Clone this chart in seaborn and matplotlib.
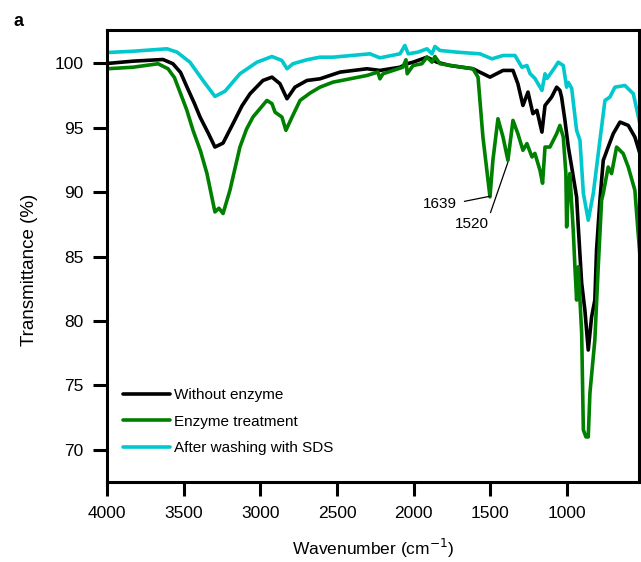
import pandas as pd
import seaborn as sns
import matplotlib.pyplot as plt

# FTIR spectra (wavenumber, transmittance %)
wn_without = [4000, 3830, 3635, 3570, 3520, 3478, 3430, 3393, 3340, 3296, 3243, 3178, 3120, 3067, 2983, 2924,
              2872, 2826, 2774, 2696, 2611, 2480, 2304, 2220, 2089, 2043, 2004, 1913, 1848, 1763, 1613, 1502,
              1417, 1352, 1320, 1287, 1254, 1222, 1196, 1163, 1143, 1100, 1067, 1046, 1035, 1013,
              991, 969, 937, 926, 904, 883, 861, 839, 818, 807, 785, 763, 731, 698, 654, 600, 557, 524]
t_without = [100.0, 100.18, 100.31, 99.98, 99.3, 98.16, 96.9, 95.84, 94.6, 93.51, 93.82, 95.33, 96.7, 97.65, 98.68, 98.94,
             98.43, 97.26, 98.16, 98.68, 98.81, 99.33, 99.59, 99.46, 99.71, 99.98, 100.1, 100.49, 100.1, 99.84, 99.59, 98.94,
             99.46, 99.46, 98.43, 96.74, 97.78, 96.1, 96.36, 94.67, 96.74, 97.39, 98.16, 97.91, 97.39, 95.58,
             93.51, 91.96, 89.64, 87.31, 82.95, 80.85, 77.75, 80.33, 81.63, 85.5, 89.38, 92.48, 93.51, 94.55,
             95.45, 95.19, 94.29, 93.0]

wn_enzyme = [4000, 3830, 3667, 3602, 3560, 3524, 3480, 3439, 3390, 3348, 3296, 3270, 3243, 3198, 3133, 3090, 3048,
             2957, 2924, 2904, 2859, 2833, 2793, 2741, 2676, 2611, 2526, 2304, 2233, 2220, 2200, 2070, 2050, 2042,
             2004, 1946, 1913, 1880, 1861, 1828, 1717, 1613, 1580, 1548, 1502, 1483, 1450, 1417, 1385,
             1352, 1320, 1287, 1261, 1228, 1209, 1176, 1159, 1143, 1111, 1067, 1046, 1024, 1007, 1002,
             991, 981, 959, 948, 937, 926, 904, 893, 876, 861, 850, 818, 796, 774, 763, 731, 709, 676,
             633, 600, 557, 537, 520]
t_enzyme = [99.59, 99.71, 99.98, 99.59, 98.9, 97.78, 96.4, 94.81, 93.2, 91.45, 88.47, 88.76, 88.35, 90.16, 93.51, 94.9, 95.84,
            97.13, 96.88, 96.22, 95.84, 94.81, 95.84, 97.13, 97.7, 98.16, 98.55, 99.07, 99.33, 98.81, 99.2, 99.71, 100.29, 99.2,
            99.84, 99.98, 100.49, 100.1, 100.54, 99.98, 99.77, 99.59, 98.94, 94.29, 89.64, 92.48, 95.71, 94.29, 92.48,
            95.58, 94.55, 93.26, 93.78, 92.74, 93.02, 91.71, 90.7, 93.51, 93.51, 94.55, 95.19, 94.29, 91.47, 87.31,
            90.16, 91.45, 87.05, 84.21, 81.63, 84.21, 79.07, 71.55, 71.0, 71.0, 74.42, 78.53, 84.19, 89.38, 89.92,
            91.96, 91.45, 93.51, 93.0, 91.96, 90.16, 87.05, 84.5]

wn_sds = [4000, 3830, 3609, 3543, 3459, 3374, 3296, 3230, 3133, 3022, 2924, 2859, 2826, 2787, 2696,
          2611, 2526, 2285, 2220, 2089, 2057, 2035, 1972, 1913, 1880, 1861, 1828, 1717, 1567, 1489,
          1417, 1339, 1294, 1261, 1241, 1209, 1163, 1143, 1130, 1100, 1078, 1057, 1024, 1002, 991,
          969, 937, 915, 893, 861, 828, 785, 752, 720, 687, 622, 567, 524]
t_sds = [100.85, 100.95, 101.14, 100.88, 100.1, 98.68, 97.44, 97.85, 99.2, 100.1, 100.54, 100.23, 99.59, 99.98, 100.29,
         100.49, 100.49, 100.75, 100.44, 100.75, 101.4, 100.75, 100.88, 101.14, 100.75, 101.32, 101.01, 100.88, 100.75, 100.36,
         100.62, 100.62, 99.71, 99.84, 99.22, 98.84, 97.91, 99.2, 98.84, 99.33, 99.71, 100.1, 99.84, 98.16, 98.53,
         98.06, 94.81, 94.03, 89.92, 87.83, 89.92, 94.03, 97.13, 97.39, 98.16, 98.29, 97.65, 95.3]

labels = ['Without enzyme', 'Enzyme treatment', 'After washing with SDS']
colors = ['#000000', '#008000', '#00c8cc']

df = pd.concat([
    pd.DataFrame({'wn': wn_without, 'T': t_without, 'sample': labels[0]}),
    pd.DataFrame({'wn': wn_enzyme, 'T': t_enzyme, 'sample': labels[1]}),
    pd.DataFrame({'wn': wn_sds, 'T': t_sds, 'sample': labels[2]}),
])

sns.set_style('ticks')
plt.rcParams['font.family'] = ['Liberation Sans', 'DejaVu Sans']
plt.rcParams.update({'text.color': 'black', 'axes.labelcolor': 'black', 'axes.edgecolor': 'black',
                     'xtick.color': 'black', 'ytick.color': 'black'})

fig = plt.figure(figsize=(6.41, 5.62), dpi=100)
ax = fig.add_axes([107 / 641, 1 - 482 / 562, 532 / 641, 452 / 562])

sns.lineplot(ax=ax, data=df, x='wn', y='T', hue='sample', hue_order=labels,
             palette=colors, estimator=None, sort=False, linewidth=2.6)

ax.set_xlim(4000, 530)
ax.set_ylim(67.5, 102.6)
ax.set_xticks([4000, 3500, 3000, 2500, 2000, 1500, 1000])
ax.set_yticks([70, 75, 80, 85, 90, 95, 100])
ax.tick_params(direction='out', length=10, width=2.2, labelsize=12.5, pad=7)
for s in ax.spines.values():
    s.set_linewidth(2.2)

ax.set_xlabel('Wavenumber (cm$^{-1}$)', fontsize=12.5, labelpad=12)
ax.set_ylabel('Transmittance (%)', fontsize=13.5)
ax.yaxis.set_label_coords(-0.130, 0.469)

ax.annotate('1639', xy=(1502, 89.69), xytext=(1717, 89.07), ha='right', va='center', fontsize=11,
            arrowprops=dict(arrowstyle='-', lw=0.9, color='black', relpos=(1, 0.6), shrinkA=3, shrinkB=0))
ax.annotate('1520', xy=(1385, 92.33), xytext=(1509, 87.52), ha='right', va='center', fontsize=11,
            arrowprops=dict(arrowstyle='-', lw=0.9, color='black', relpos=(1, 1), shrinkA=1, shrinkB=0))

ax.legend(loc='upper left', bbox_to_anchor=(0.030, 0.207), borderaxespad=0, borderpad=0,
          frameon=False, fontsize=11, handlelength=3.1, handletextpad=0.25, labelspacing=0.8)

fig.text(14 / 641, 1 - 22 / 562, 'a', fontsize=13, fontweight='bold', va='center')

plt.savefig('out.png', dpi=100)
